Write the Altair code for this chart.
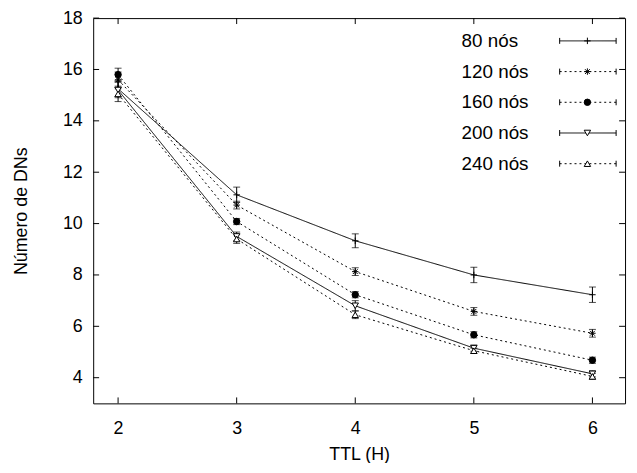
import altair as alt
import pandas as pd

# ---- data ----
ttl = [2, 3, 4, 5, 6]
series_names = ["80 nós", "120 nós", "160 nós", "200 nós", "240 nós"]
n80 = [15.25, 11.12, 9.33, 8.0, 7.23]
n80_err = [0.3, 0.3, 0.27, 0.3, 0.3]
n120 = [15.6, 10.72, 8.13, 6.58, 5.73]
n120_err = [0.3, 0.15, 0.15, 0.15, 0.15]
n160 = [15.8, 10.08, 7.23, 5.67, 4.68]
n160_err = [0.25, 0.12, 0.12, 0.12, 0.12]
n200 = [15.2, 9.5, 6.8, 5.15, 4.15]
n200_err = [0.3, 0.17, 0.2, 0.12, 0.12]
n240 = [15.05, 9.4, 6.45, 5.05, 4.05]
n240_err = [0.3, 0.17, 0.15, 0.1, 0.12]
x_ticks = [2, 3, 4, 5, 6]
y_ticks = [4, 6, 8, 10, 12, 14, 16, 18]

values = [n80, n120, n160, n200, n240]
errors = [n80_err, n120_err, n160_err, n200_err, n240_err]

rows = []
for name, vals, errs in zip(series_names, values, errors):
    for t, v, e in zip(ttl, vals, errs):
        rows.append({"series": name, "ttl": t, "value": v, "lo": v - e, "hi": v + e})
df = pd.DataFrame(rows)

# ---- styling ----
W, H = 537, 389
FONT = "Liberation Sans"
FS = 18
cross = "M-1,0H1M0,-1V1"
star = "M-1,0H1M0,-1V1M-0.75,-0.75L0.75,0.75M-0.75,0.75L0.75,-0.75"
shapes = [cross, star, "circle", "triangle-down", "triangle-up"]
fills = ["transparent", "transparent", "black", "white", "white"]
dashes = [[1, 0], [2, 3], [2, 3], [1, 0], [2, 3]]

xscale = alt.Scale(domain=[1.79, 6.275], nice=False, zero=False)
yscale = alt.Scale(domain=[3, 18], nice=False, zero=False)
xaxis = alt.Axis(values=x_ticks, title="TTL (H)", titleX=W / 2, titleY=52,
                 titleBaseline="middle", labelPadding=16)
yaxis = alt.Axis(values=y_ticks, title="Número de DNs", titleX=-72, titleY=H / 2,
                 titleBaseline="middle", labelPadding=11)


def xq(field):
    return alt.X(field, scale=xscale, axis=xaxis)


def yq(field):
    return alt.Y(field, scale=yscale, axis=yaxis)


base = alt.Chart(df)

lines = base.mark_line(color="black", strokeWidth=1).encode(
    x=xq("ttl:Q"), y=yq("value:Q"),
    strokeDash=alt.StrokeDash("series:N", scale=alt.Scale(domain=series_names, range=dashes), legend=None),
    detail="series:N",
)

err = base.mark_rule(color="black", strokeWidth=1).encode(
    x=xq("ttl:Q"), y=yq("lo:Q"), y2="hi:Q")
cap_lo = base.mark_tick(orient="horizontal", size=7, thickness=1, color="black").encode(
    x=xq("ttl:Q"), y=yq("lo:Q"))
cap_hi = base.mark_tick(orient="horizontal", size=7, thickness=1, color="black").encode(
    x=xq("ttl:Q"), y=yq("hi:Q"))

points = base.mark_point(stroke="black", strokeWidth=1, size=42, opacity=1, filled=True).encode(
    x=xq("ttl:Q"), y=yq("value:Q"),
    shape=alt.Shape("series:N", scale=alt.Scale(domain=series_names, range=shapes), legend=None),
    fill=alt.Fill("series:N", scale=alt.Scale(domain=series_names, range=fills), legend=None),
)

# inward (mirrored) ticks, gnuplot style
TL = 6
yt = alt.Chart(pd.DataFrame({"v": y_ticks}))
xt = alt.Chart(pd.DataFrame({"v": x_ticks}))
tick_layers = [
    yt.mark_rule(color="black").encode(x=alt.value(0), x2=alt.value(TL), y=yq("v:Q")),
    yt.mark_rule(color="black").encode(x=alt.value(W - TL), x2=alt.value(W), y=yq("v:Q")),
    xt.mark_rule(color="black").encode(y=alt.value(H), y2=alt.value(H - TL), x=xq("v:Q")),
    xt.mark_rule(color="black").encode(y=alt.value(0), y2=alt.value(TL), x=xq("v:Q")),
]

# manual legend (label left, sample on the right, as in gnuplot)
legend_layers = []
row_y = [23, 54, 85, 116, 147]
tx, lx1, lx2, mx = 372, 471, 528, 499
for name, ry, shp, fl, dsh in zip(series_names, row_y, shapes, fills, dashes):
    one = alt.Chart(pd.DataFrame({"series": [name]}))
    legend_layers += [
        one.mark_text(align="left", baseline="middle", font=FONT, fontSize=19, color="black").encode(
            text="series:N", x=alt.value(tx), y=alt.value(ry)),
        one.mark_rule(color="black", strokeWidth=1, strokeDash=dsh).encode(
            x=alt.value(lx1), x2=alt.value(lx2), y=alt.value(ry)),
        one.mark_rule(color="black", strokeWidth=1).encode(
            x=alt.value(lx1), y=alt.value(ry - 3), y2=alt.value(ry + 3)),
        one.mark_rule(color="black", strokeWidth=1).encode(
            x=alt.value(lx2), y=alt.value(ry - 3), y2=alt.value(ry + 3)),
        one.mark_point(stroke="black", strokeWidth=1, size=42, opacity=1, filled=True,
                       shape=shp, fill=fl).encode(x=alt.value(mx), y=alt.value(ry)),
    ]

chart = alt.layer(lines, err, cap_lo, cap_hi, points, *tick_layers, *legend_layers).properties(
    width=W, height=H,
    autosize=alt.AutoSizeParams(type="none"),
    padding={"left": 86, "top": 8, "right": 4, "bottom": 58},
).configure_view(stroke="black", strokeWidth=1).configure_axis(
    domain=False, ticks=False, grid=False,
    labelFont=FONT, labelFontSize=FS, labelColor="black",
    titleFont=FONT, titleFontSize=FS, titleFontWeight="normal", titleColor="black",
)

chart.save("out.html", embed_options={"renderer": "svg", "actions": False})
